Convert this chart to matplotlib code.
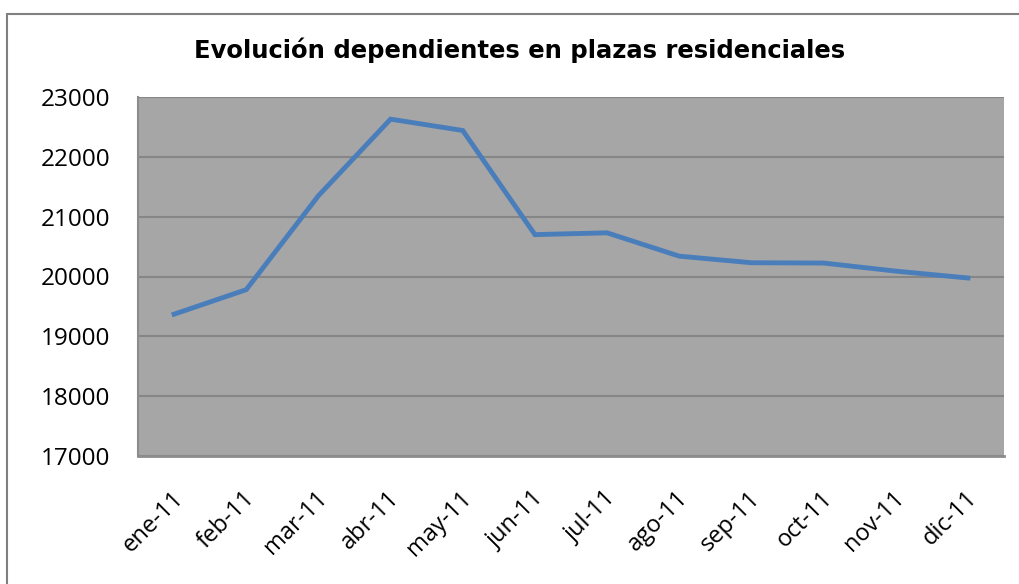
import matplotlib
matplotlib.use("Agg")
import matplotlib.pyplot as plt
from matplotlib.patches import Rectangle

months = ["ene-11", "feb-11", "mar-11", "abr-11", "may-11", "jun-11",
          "jul-11", "ago-11", "sep-11", "oct-11", "nov-11", "dic-11"]
values = [19370, 19780, 21350, 22630, 22440, 20700,
          20730, 20340, 20230, 20225, 20090, 19975]
yticks = [17000, 18000, 19000, 20000, 21000, 22000, 23000]

W, H = 1019, 584
fig = plt.figure(figsize=(W / 100, H / 100), dpi=100)
fig.patch.set_facecolor("white")
fig.patches.append(Rectangle((7 / W, -0.1), 1.2, (584 - 14) / H + 0.1,
                             transform=fig.transFigure, fill=False,
                             edgecolor="#808080", linewidth=1.5))

ax = fig.add_axes([138 / W, (H - 456) / H, (1004 - 138) / W, (456 - 97) / H])
ax.set_facecolor("#A6A6A6")
x = list(range(len(months)))
ax.plot(x, values, color="#4A7EBB", linewidth=3.5, solid_joinstyle="miter")
ax.set_xlim(-0.5, len(months) - 0.5)
ax.set_ylim(17000, 23000)
ax.set_yticks(yticks)
ax.set_yticklabels([str(v) for v in yticks], fontsize=17.5, family="Open Sans")
ax.set_xticks(x)
ax.set_xticklabels([])
for xi, m in zip(x, months):
    ax.annotate(m, xy=(xi, 0), xycoords=("data", "axes fraction"),
                xytext=(4, -28), textcoords="offset points",
                rotation=45, ha="right", va="center", rotation_mode="anchor",
                fontsize=17, family="Open Sans", annotation_clip=False)
ax.tick_params(axis="both", length=0)
ax.tick_params(axis="y", pad=20)
ax.grid(axis="y", color="#868686", linewidth=1.5)
ax.set_axisbelow(True)
for s in ["top", "right"]:
    ax.spines[s].set_visible(False)
ax.spines["left"].set_color("#8C8C8C")
ax.spines["bottom"].set_color("#8C8C8C")
ax.spines["left"].set_linewidth(1.5)
ax.spines["bottom"].set_linewidth(2)

fig.text(520 / W, 1 - 50 / H, "Evolución dependientes en plazas residenciales",
         ha="center", va="center", fontsize=17.5, fontweight="bold",
         family="DejaVu Sans")

fig.savefig("out.png", dpi=100)
